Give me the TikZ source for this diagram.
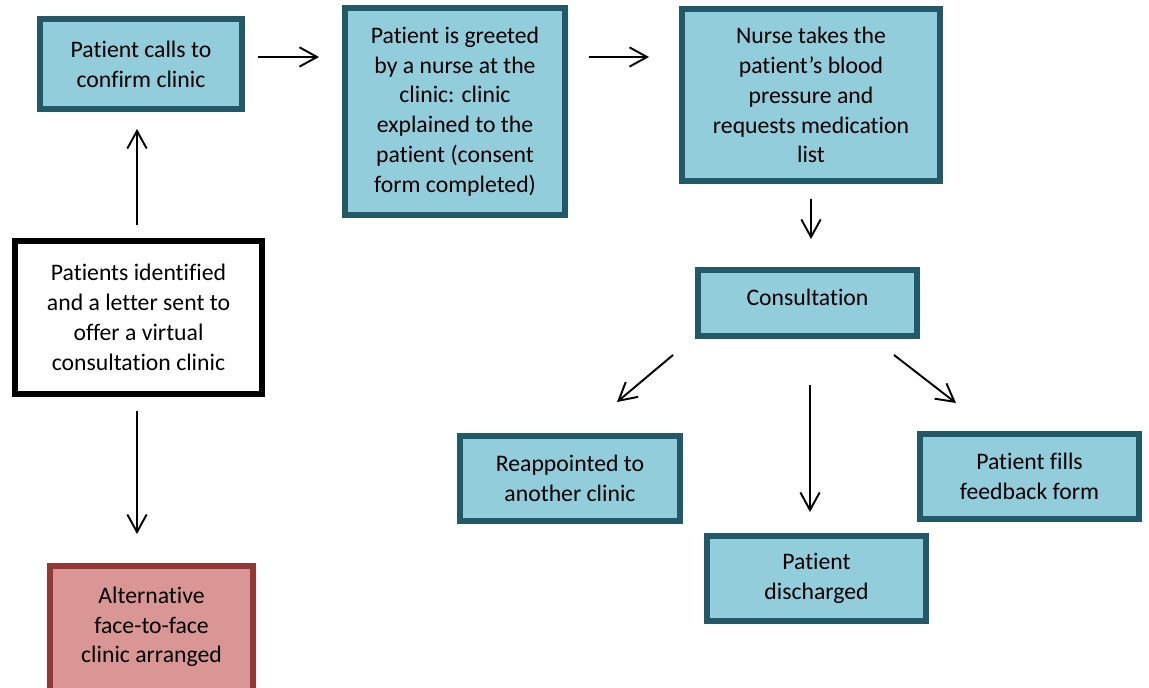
\documentclass[tikz,border=0pt]{standalone}
\usepackage{fontspec}
\setmainfont{Carlito}[Ligatures={NoCommon}]
\usetikzlibrary{arrows.meta}
\definecolor{tealline}{HTML}{215968}
\definecolor{tealfill}{HTML}{92CDDC}
\definecolor{redline}{HTML}{953735}
\definecolor{redfill}{HTML}{D99694}

\begin{document}
\begin{tikzpicture}[x=0.02cm, y=-0.02cm,
    block/.style={draw=tealline, fill=tealfill, line width=3.4pt, align=center,
                  font=\fontsize{13.5}{17}\selectfont, inner sep=2pt},
    startbox/.style={block, draw=black, fill=white},
    altbox/.style={block, draw=redline, fill=redfill},
    arr/.style={-{Straight Barb[length=10pt,width=11pt]}, line width=1.1pt}]
    \useasboundingbox (0,0) rectangle (1149,688);
    \begin{scope}
    \clip (0,0) rectangle (1149,688);
    \node [block, minimum width=4.04cm, minimum height=1.80cm]    (call)      at (141,64)     {Patient calls to\\confirm clinic};
    \node [block, minimum width=4.40cm, minimum height=4.14cm]    (greet)     at (455,111.5)  {Patient is greeted\\by a nurse at the\\clinic: clinic\\explained to the\\patient (consent\\form completed)};
    \node [block, minimum width=5.16cm, minimum height=3.44cm]    (nurse)     at (811,95)     {Nurse takes the\\patient’s blood\\pressure and\\requests medication\\list};
    \node [block, minimum width=4.38cm, minimum height=1.32cm, text depth=6pt] (consult) at (807.5,303) {Consultation};
    \node [block, minimum width=4.40cm, minimum height=1.70cm]    (reappoint) at (570,478.5)  {Reappointed to\\another clinic};
    \node [block, minimum width=4.38cm, minimum height=1.70cm]    (discharge) at (816.5,578.5) {Patient\\discharged};
    \node [block, minimum width=4.38cm, minimum height=1.70cm]    (feedback)  at (1029.5,476.5) {Patient fills\\feedback form};
    \node [startbox, minimum width=4.94cm, minimum height=3.06cm] (ident)     at (138.5,317.5) {Patients identified\\and a letter sent to\\offer a virtual\\consultation clinic};
    \node [altbox, minimum width=4.06cm, minimum height=2.60cm, text depth=7pt] (alt) at (151.5,631) {Alternative\\face-to-face\\clinic arranged};
    \end{scope}

    \draw [arr, shorten <=0.26cm, shorten >=0.46cm] ([yshift=0.14cm]call.east) -- ([yshift=0.14cm]call.east -| greet.west);
    \draw [arr, shorten <=0.42cm, shorten >=0.60cm] ([yshift=1.09cm]greet.east) -- ([yshift=1.09cm]greet.east -| nurse.west);
    \draw [arr, shorten <=0.26cm, shorten >=0.34cm] ([xshift=-0.03cm]ident.north) -- ([xshift=-0.03cm]ident.north |- call.south);
    \draw [arr, shorten <=0.28cm, shorten >=0.58cm] ([xshift=-0.03cm]ident.south) -- ([xshift=-0.03cm]ident.south |- alt.north);
    \draw [arr, shorten <=0.30cm, shorten >=0.56cm] (nurse.south) -- (nurse.south |- consult.north);
    \draw [arr] ([xshift=-0.44cm,yshift=-0.32cm]consult.south west) -- ([xshift=0.94cm,yshift=0.62cm]reappoint.north);
    \draw [arr, shorten <=0.92cm, shorten >=0.42cm] ([xshift=0.05cm]consult.south) -- ([xshift=0.05cm]consult.south |- discharge.north);
    \draw [arr] ([xshift=-0.52cm,yshift=-0.32cm]consult.south east) -- ([xshift=-1.47cm,yshift=0.56cm]feedback.north);
\end{tikzpicture}
\end{document}
